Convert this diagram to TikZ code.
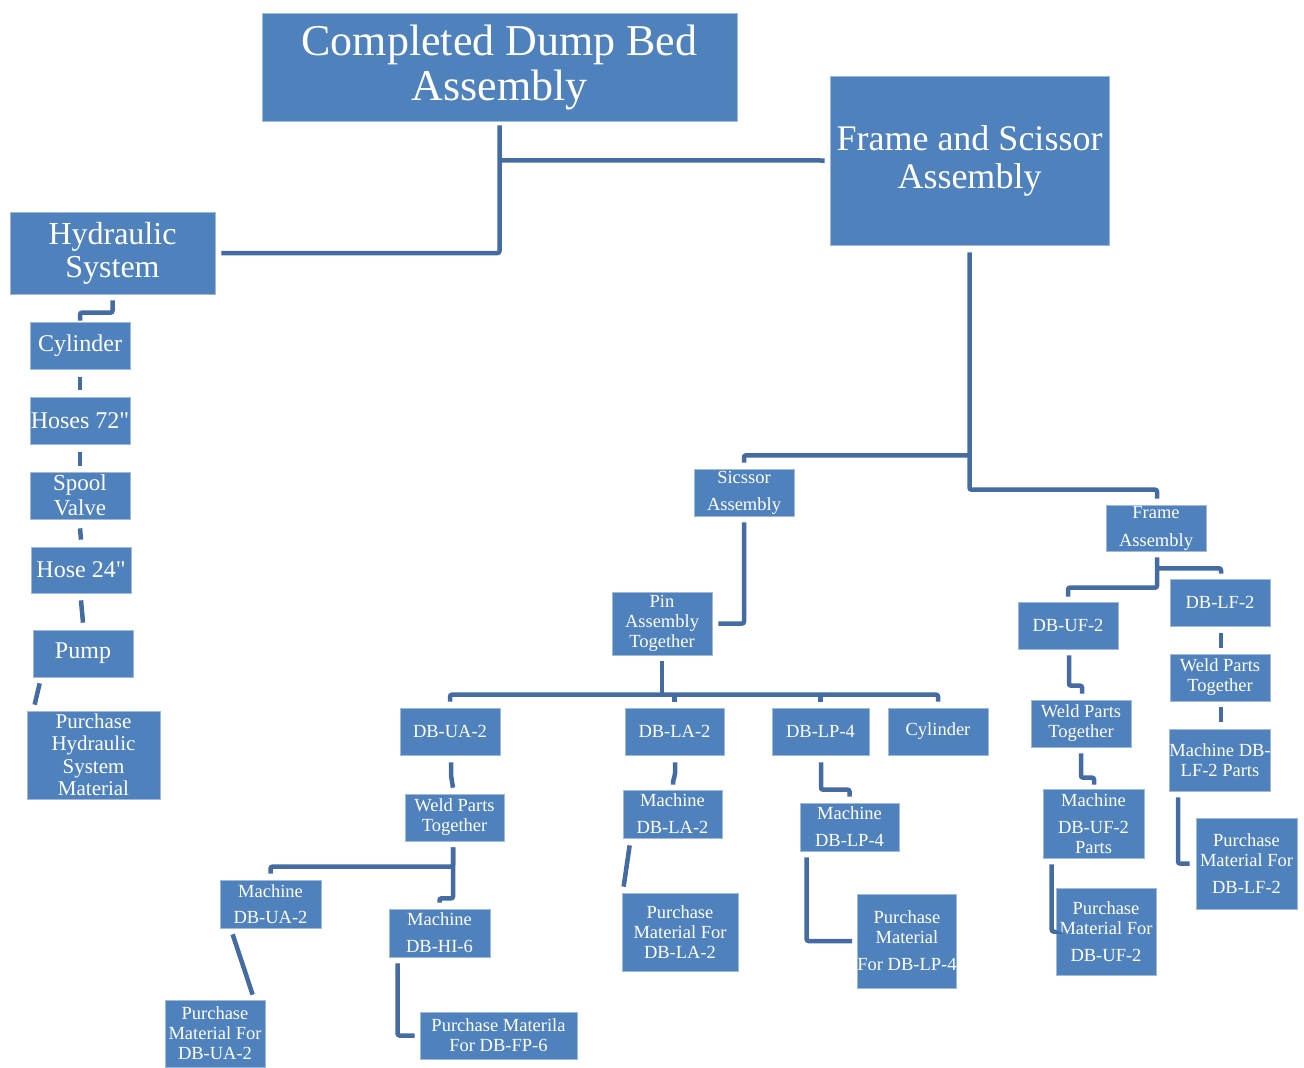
\documentclass[tikz,border=0pt]{standalone}
\usepackage{fontspec}
\setmainfont{Liberation Serif}
\usetikzlibrary{calc,positioning}
\definecolor{boxblue}{RGB}{79,129,189}
\definecolor{lineblue}{RGB}{68,108,162}
\tikzset{
  box/.style={fill=boxblue, draw=boxblue!55!white, line width=0.7pt, text=white,
    align=center, inner sep=0pt, font=\fontsize{18.5}{20}\selectfont},
  conn/.style={draw=lineblue, line width=4.5pt, rounded corners=2pt}
}
\begin{document}
\begin{tikzpicture}[x=1pt,y=-1pt]
 \useasboundingbox (0,0) rectangle (1304,1068);
 % top level
 \node [box, minimum width=475, minimum height=108, font=\fontsize{44}{45}\selectfont] (top) at (499.5,67) {Completed Dump Bed\\Assembly};
 \node [box, minimum width=279, minimum height=169, font=\fontsize{36}{38}\selectfont] (fns) at (969.5,160.5) {Frame and Scissor\\Assembly};
 \node [box, minimum width=205, minimum height=82, font=\fontsize{32}{33}\selectfont] (hyd) at (112.5,253) {Hydraulic\\System};
 % hydraulic chain
 \node [box, minimum width=100, minimum height=47, font=\fontsize{24}{25}\selectfont] (cyl) at (80,345.5) {Cylinder};
 \node [box, minimum width=100, minimum height=47, font=\fontsize{24}{25}\selectfont] (hoseA) at (80,420.5) {Hoses 72\textquotedbl};
 \node [box, minimum width=100, minimum height=47, font=\fontsize{23}{25}\selectfont] (spool) at (80,495.5) {Spool\\Valve};
 \node [box, minimum width=100, minimum height=46, font=\fontsize{24}{25}\selectfont] (hoseB) at (81,570) {Hose 24\textquotedbl};
 \node [box, minimum width=100, minimum height=47, font=\fontsize{24}{25}\selectfont] (pump) at (83,653.5) {Pump};
 \node [box, minimum width=133, minimum height=88, font=\fontsize{21}{22.5}\selectfont] (phyd) at (93.5,755) {Purchase\\Hydraulic\\System\\Material};
 % scissor side
 \node [box, minimum width=100, minimum height=47] (sic) at (744,492.5) {Sicssor\\[7pt]Assembly};
 \node [box, minimum width=100, minimum height=63] (pin) at (662,623.5) {Pin\\Assembly\\Together};
 \node [box, minimum width=100, minimum height=47] (dbua) at (450,731.5) {DB-UA-2};
 \node [box, minimum width=99, minimum height=47] (dbla) at (674.5,731.5) {DB-LA-2};
 \node [box, minimum width=97, minimum height=47] (dblp) at (820.5,731.5) {DB-LP-4};
 \node [box, minimum width=100, minimum height=47] (cylB) at (938,731.5) {Cylinder};
 \node [box, minimum width=99, minimum height=47] (wua) at (454.5,817.5) {Weld Parts\\Together};
 \node [box, minimum width=99, minimum height=48] (mla) at (672.5,814) {Machine\\[7pt]DB-LA-2};
 \node [box, minimum width=99, minimum height=48] (mlp) at (849.5,827) {Machine\\[7pt]DB-LP-4};
 \node [box, minimum width=101, minimum height=48] (mua) at (270.5,904) {Machine\\[6pt]DB-UA-2};
 \node [box, minimum width=101, minimum height=48] (mhi) at (439.5,933) {Machine\\[7pt]DB-HI-6};
 \node [box, minimum width=100, minimum height=67] (pua) at (215,1033.5) {Purchase\\Material For\\DB-UA-2};
 \node [box, minimum width=157, minimum height=47] (pfp) at (498.5,1035.5) {Purchase Materila\\For DB-FP-6};
 \node [box, minimum width=116, minimum height=78] (pla) at (680,932) {Purchase\\Material For\\DB-LA-2};
 \node [box, minimum width=98, minimum height=94] (plp) at (907,941) {Purchase\\Material\\[7pt]For DB-LP-4};
 % frame side
 \node [box, minimum width=100, minimum height=46] (fra) at (1156,528) {Frame\\[8pt]Assembly};
 \node [box, minimum width=100, minimum height=47] (dbuf) at (1068,625.5) {DB-UF-2};
 \node [box, minimum width=100, minimum height=47] (dblf) at (1220,602.5) {DB-LF-2};
 \node [box, minimum width=100, minimum height=47] (wuf) at (1081,723.5) {Weld Parts\\Together};
 \node [box, minimum width=100, minimum height=47] (wlf) at (1220,677.5) {Weld Parts\\Together};
 \node [box, minimum width=101, minimum height=69] (muf) at (1093.5,823.5) {Machine\\[7pt]DB-UF-2\\Parts};
 \node [box, minimum width=100, minimum height=62] (mlf) at (1220,760) {Machine DB-\\LF-2 Parts};
 \node [box, minimum width=100, minimum height=87] (puf) at (1106,931.5) {Purchase\\Material For\\[7pt]DB-UF-2};
 \node [box, minimum width=101, minimum height=91] (plf) at (1246.5,863.5) {Purchase\\Material For\\[7pt]DB-LF-2};

 % connectors
 \path [conn] ($(top.south)+(0,4)$) |- ($(hyd.east)+(6,0)$);
 \path [conn] ($(top.south)+(0,39)$) -- ($(fns.west)+(-5,0)$);
 \path [conn] ($(hyd.south)+(0,6)$) |- ($(cyl.north)+(0,-9)$) -- ($(cyl.north)+(0,-1)$);
 \path [conn] ($(cyl.south)+(0,8)$) -- ($(hoseA.north)+(0,-7)$);
 \path [conn] ($(hoseA.south)+(0,8)$) -- ($(spool.north)+(0,-6)$);
 \path [conn] ($(spool.south)+(0,9)$) -- ($(hoseB.north)+(0,-7)$);
 \path [conn] ($(hoseB.south)+(0,7)$) -- ($(pump.north)+(0,-7)$);
 \path [conn] ($(pump.south west)+(7,6)$) -- ($(phyd.north west)+(8,-6)$);

 \path [conn] ($(fns.south)+(0,7)$) |- ($(fra.north)+(1,-15)$) -- ($(fra.north)+(1,-6)$);
 \path [conn] ($(fns.south)+(0,210)$) -| ($(sic.north)+(0,-6)$);
 \path [conn] ($(sic.south)+(0,6)$) |- ($(pin.east)+(6,0)$);
 \path [conn] ($(pin.south)+(0,6)$) -- ($(pin.south)+(0,40)$);
 \path [conn] ($(dbua.north)+(0,-6)$) |- ($(cylB.north)+(0,-13)$) -- ($(cylB.north)+(0,-6)$);
 \path [conn] ($(dbla.north)+(0,-13)$) -- ($(dbla.north)+(0,-6)$);
 \path [conn] ($(dblp.north)+(0,-13)$) -- ($(dblp.north)+(0,-6)$);

 \path [conn] ($(dbua.south)+(1,7)$) -- ++(0,13) -- ($(wua.north)+(-1.5,-6)$);
 \path [conn] ($(wua.south)+(-1.5,6)$) |- ($(mua.north)+(0,-13)$) -- ($(mua.north)+(0,-6)$);
 \path [conn] ($(wua.south)+(-1.5,6)$) -- ++(0,51) -| ($(mhi.north)+(0,-6)$);
 \path [conn] ($(mua.south west)+(13,6)$) -- ($(pua.north west)+(88,-5)$);
 \path [conn] ($(mhi.south west)+(9,6)$) |- ($(pfp.west)+(-5,0)$);

 \path [conn] ($(dbla.south)+(0.5,7)$) -- ++(0,13) -- ($(mla.north)+(0.5,-9)$) -- ($(mla.north)+(0.5,-5)$);
 \path [conn] ($(mla.south west)+(7,7)$) -- ($(pla.north west)+(2,-6)$);
 \path [conn] ($(dblp.south)+(0.5,7)$) |- ($(mlp.north)+(0,-13)$) -- ($(mlp.north)+(0,-6)$);
 \path [conn] ($(mlp.south west)+(7,6)$) |- ($(plp.west)+(-5,0)$);

 \path [conn] ($(fra.south)+(1,6)$) |- ($(dbuf.north)+(0,-14)$) -- ($(dbuf.north)+(0,-5)$);
 \path [conn] ($(fra.south)+(1,17)$) -| ($(dblf.north)+(1,-5)$);
 \path [conn] ($(dbuf.south)+(1,6)$) |- ($(wuf.north)+(1,-14)$) -- ($(wuf.north)+(1,-6)$);
 \path [conn] ($(dblf.south)+(1,7)$) -- ($(wlf.north)+(1,-6)$);
 \path [conn] ($(wuf.south)+(0,6)$) |- ($(muf.north)+(0.5,-11)$) -- ($(muf.north)+(0.5,-4)$);
 \path [conn] ($(wlf.south)+(1,6)$) -- ($(mlf.north)+(1,-7)$);
 \path [conn] ($(muf.south west)+(9,6)$) |- ($(puf.west)+(-3,0)$);
 \path [conn] ($(mlf.south west)+(9,6)$) |- ($(plf.west)+(-6,0)$);
\end{tikzpicture}
\end{document}
